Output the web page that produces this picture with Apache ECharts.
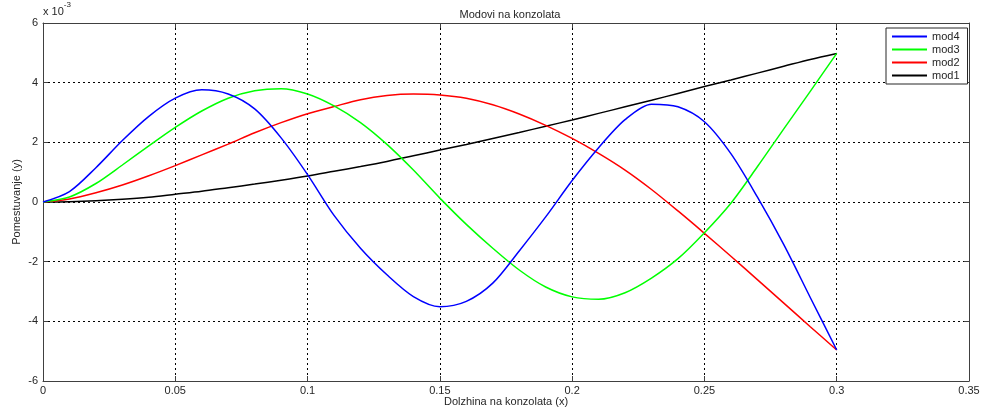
<!DOCTYPE html>
<html>
<head>
<meta charset="utf-8">
<script src="https://cdn.jsdelivr.net/npm/echarts@6/dist/echarts.min.js"></script>
<style>
html,body{margin:0;padding:0;background:#fff;}
#chart{width:981px;height:407px;}
</style>
</head>
<body>
<div id="chart"></div>
<script>
// x positions (m)
const xs = [0,0.01,0.02,0.03,0.04,0.05,0.06,0.07,0.08,0.09,0.10,0.11,0.12,0.13,0.14,0.15,0.16,0.17,0.18,0.19,0.20,0.21,0.22,0.23,0.24,0.25,0.26,0.27,0.28,0.29,0.30];
// displacements (x 10^-3)
const mod4 = [0,0.35,1.15,2.06,2.87,3.48,3.76,3.62,3.12,2.15,0.92,-0.45,-1.55,-2.44,-3.17,-3.51,-3.33,-2.72,-1.64,-0.5,0.72,1.82,2.76,3.28,3.19,2.69,1.62,0.17,-1.43,-3.2,-4.96];
const mod3 = [0,0.17,0.62,1.24,1.88,2.5,3.05,3.48,3.73,3.8,3.62,3.22,2.66,1.93,1.07,0.13,-0.75,-1.55,-2.28,-2.85,-3.18,-3.26,-3.04,-2.55,-1.9,-1.03,-0.04,1.18,2.45,3.71,4.98];
const mod2 = [0,0.1,0.31,0.57,0.88,1.22,1.58,1.94,2.32,2.66,2.96,3.2,3.43,3.57,3.62,3.59,3.48,3.26,2.95,2.57,2.13,1.63,1.07,0.42,-0.3,-1.05,-1.82,-2.6,-3.39,-4.18,-4.96];
const mod1 = [0,0.01,0.04,0.09,0.16,0.26,0.36,0.48,0.6,0.73,0.87,1.03,1.19,1.36,1.55,1.74,1.93,2.13,2.33,2.54,2.75,2.97,3.19,3.41,3.64,3.87,4.09,4.32,4.55,4.78,4.98];
const seriesNames = ['mod4','mod3','mod2','mod1'];
const seriesColors = ['#0000ff','#00ff00','#ff0000','#000000'];
const xTicks = ['0','0.05','0.1','0.15','0.2','0.25','0.3','0.35'];

const allData = [mod4, mod3, mod2, mod1];
const FONT = 'Liberation Sans, Arial, sans-serif';
const TXT = '#262626';

const chart = echarts.init(document.getElementById('chart'), null, {renderer:'canvas'});

const gridLine = {show:true, lineStyle:{color:'#000', width:1, type:[2,3]}};
const axisLine = {show:true, onZero:false, lineStyle:{color:'#404040', width:1}};
const tick = {show:true, inside:true, length:5, lineStyle:{color:'#404040'}};

const option = {
  backgroundColor:'#fff',
  animation:false,
  title:{
    text:'Modovi na konzolata',
    left:505, top:4, textAlign:'center',
    textStyle:{fontFamily:FONT, fontSize:11, fontWeight:'normal', color:TXT}
  },
  grid:{left:43, right:12, top:23, bottom:26, show:false, outerBoundsMode:'none', containLabel:false},
  legend:{
    data:seriesNames,
    orient:'vertical',
    left:886, top:28,
    icon:'rect', itemWidth:35, itemHeight:2, itemGap:2,
    padding:[3,8,3,6],
    borderColor:'#262626', borderWidth:1, backgroundColor:'#fff',
    textStyle:{fontFamily:FONT, fontSize:11, color:TXT, lineHeight:11}
  },
  xAxis:[{
    type:'value', min:0, max:0.35, interval:0.05, position:'bottom',
    axisLine:axisLine, axisTick:tick,
    axisLabel:{fontFamily:FONT, fontSize:11, color:TXT, margin:4,
      formatter:(v)=>{const i=Math.round(v/0.05); return xTicks[i]!==undefined?xTicks[i]:'';}},
    splitLine:gridLine,
    name:'Dolzhina na konzolata (x)', nameLocation:'middle', nameGap:15, nameMoveOverlap:false,
    nameTextStyle:{fontFamily:FONT, fontSize:11, color:TXT}
  },{
    type:'value', min:0, max:0.35, interval:0.05, position:'top',
    axisLine:axisLine, axisTick:tick,
    axisLabel:{show:false}, splitLine:{show:false}
  }],
  yAxis:[{
    type:'value', min:-6, max:6, interval:2, position:'left',
    axisLine:axisLine, axisTick:tick,
    axisLabel:{fontFamily:FONT, fontSize:11, color:TXT, margin:5},
    splitLine:gridLine,
    name:'{a|x 10}{b|-3}', nameLocation:'end', nameGap:1,
    nameTextStyle:{align:'left', padding:[0,0,0,0],
      rich:{a:{fontFamily:FONT, fontSize:11, color:TXT, padding:[6,0,0,0]},
            b:{fontFamily:FONT, fontSize:8, color:TXT, verticalAlign:'top', padding:[0,0,0,0]}}}
  },{
    type:'value', min:-6, max:6, interval:2, position:'right',
    axisLine:axisLine, axisTick:tick,
    axisLabel:{show:false}, splitLine:{show:false}
  }],
  graphic:[{
    type:'text', x:17, y:202, rotation:Math.PI/2,
    style:{text:'Pomestuvanje (y)', font:'11px ' + FONT, fill:TXT, align:'center', verticalAlign:'middle'}
  }],
  series: seriesNames.map((n,i)=>({
    name:n, type:'line', xAxisIndex:0, yAxisIndex:0,
    data: xs.map((x,j)=>[x, allData[i][j]]),
    showSymbol:false, symbol:'none', smooth:0.3,
    lineStyle:{color:seriesColors[i], width:1.5},
    itemStyle:{color:seriesColors[i]},
    z: 10 - i
  }))
};
chart.setOption(option);
</script>
</body>
</html>
